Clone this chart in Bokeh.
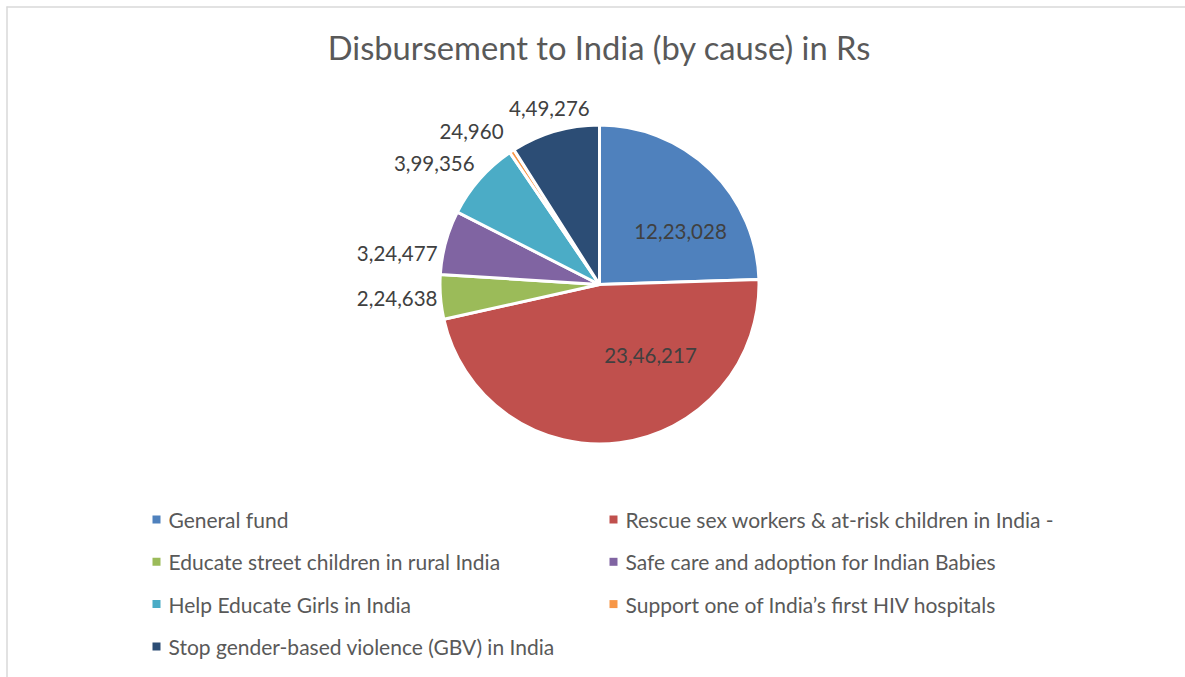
import math
from bokeh.plotting import figure
from bokeh.models import Range1d, ColumnDataSource
from bokeh.core.properties import value
from bokeh.embed import file_html
from bokeh.resources import INLINE

# ---------------- data ----------------
chart_title = "Disbursement to India (by cause) in Rs"
causes = [
    "General fund",
    "Rescue sex workers & at-risk children in India -",
    "Educate street children in rural India",
    "Safe care and adoption for Indian Babies",
    "Help Educate Girls in India",
    "Support one of India\u2019s first HIV hospitals",
    "Stop gender-based violence (GBV) in India",
]
amounts = [1223028, 2346217, 224638, 324477, 399356, 24960, 449276]
colors = ["#4F81BD", "#C0504D", "#9BBB59", "#8064A2", "#4BACC6", "#F79646", "#2C4D75"]

# label placement (style): polar angle clockwise from 12 o'clock (deg), radius (px), alignment
label_place = [
    (56.8, 96.8, "center"),
    (144.3, 87.4, "center"),
    (265.1, 162.6, "right"),
    (280.8, 164.9, "right"),
    (314.1, 174.0, "right"),
    (327.9, 180.6, "right"),
    (344.1, 183.0, "center"),
]


def indian(n):
    s = str(n)
    if len(s) <= 3:
        return s
    last3, rest = s[-3:], s[:-3]
    groups = []
    while len(rest) > 2:
        groups.insert(0, rest[-2:])
        rest = rest[:-2]
    if rest:
        groups.insert(0, rest)
    return ",".join(groups + [last3])


# ---------------- layout (pixel coordinate system) ----------------
W, H = 1185, 677
OFF = 0
PAGE_H = 677


def Y(py):
    return PAGE_H - py


CX, CY, R = 599, 284, 159.5
FONT = value("Lato")

p = figure(width=W, height=H, x_range=Range1d(OFF, OFF + W), y_range=Range1d(PAGE_H - OFF - H, PAGE_H - OFF),
           x_axis_type=None, y_axis_type=None, toolbar_location=None, output_backend="svg",
           min_border=0, outline_line_color=None, background_fill_color="white", border_fill_color="white")
p.xgrid.visible = False
p.ygrid.visible = False

# chart border (top and left)
p.segment(x0=[6, 6.5], y0=[Y(6.5), Y(6)], x1=[W, 6.5], y1=[Y(6.5), Y(H)],
          line_color="#D9D9D9", line_width=1.5)

# title
p.text(x=[CX], y=[Y(47)], text=[chart_title], text_font=FONT, text_font_size="32.7px",
       text_color="#595959", text_align="center", text_baseline="middle")

# pie
total = float(sum(amounts))
cum = [0.0]
for a in amounts:
    cum.append(cum[-1] + a / total)
starts = [math.pi / 2 - 2 * math.pi * cum[i + 1] for i in range(len(amounts))]
ends = [math.pi / 2 - 2 * math.pi * cum[i] for i in range(len(amounts))]
src = ColumnDataSource(dict(start=starts, end=ends, color=colors, cause=causes, amount=amounts,
                            x=[CX] * len(amounts), y=[Y(CY)] * len(amounts)))
p.wedge(x="x", y="y", radius=R, start_angle="start", end_angle="end", fill_color="color",
        line_color="white", line_width=3, source=src)

# data labels
for amt, (ang, rad, align) in zip(amounts, label_place):
    t = math.radians(ang)
    lx = CX + rad * math.sin(t)
    ly = Y(CY) + rad * math.cos(t)
    p.text(x=[lx], y=[ly], text=[indian(amt)], text_font=FONT, text_font_size="20.5px",
           text_color="#404040", text_align=align, text_baseline="middle")

# legend
col_marker = [156, 613]
col_text = [168, 625]
row0, row_step = 519, 42.3
mx, my, tx, ty = [], [], [], []
for i, c in enumerate(causes):
    r, cidx = divmod(i, 2)
    mx.append(col_marker[cidx])
    my.append(Y(row0 + row_step * r))
    tx.append(col_text[cidx])
    ty.append(Y(row0 + row_step * r))
p.scatter(x=mx, y=my, marker="square", size=8, fill_color=colors, line_color=None)
p.text(x=tx, y=ty, text=causes, text_font=FONT, text_font_size="21px", text_color="#595959",
       text_align="left", text_baseline="middle")

open("out.html", "w").write(file_html(p, INLINE))
